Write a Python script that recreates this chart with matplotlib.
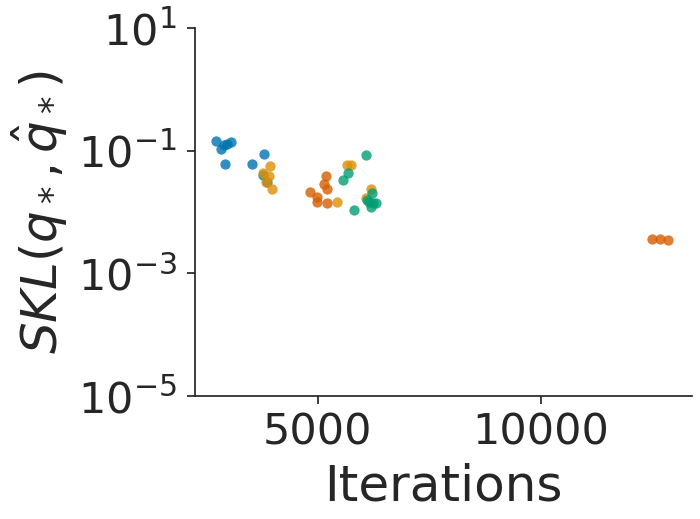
import numpy as np
import matplotlib
matplotlib.use("Agg")
import matplotlib.pyplot as plt

# colorblind palette
colors = ["#0173B2", "#DE8F05", "#029E73", "#D55E00"]

blue_x = [2703, 2889, 2815, 3053, 2950, 2911, 3787, 3525, 3772, 3862]
blue_y = [0.144, 0.124, 0.105, 0.137, 0.128, 0.060, 0.088, 0.0605, 0.040, 0.031]

orange_x = [3922, 3772, 3900, 3826, 3974, 5433, 5651, 5741, 6197, 6071]
orange_y = [0.056, 0.043, 0.039, 0.031, 0.0234, 0.0146, 0.0577, 0.0577, 0.0234, 0.0167]

green_x = [6085, 5681, 5568, 6219, 6145, 6235, 6296, 6183, 6100, 5808]
green_y = [0.085, 0.043, 0.033, 0.0207, 0.0147, 0.0139, 0.0142, 0.0122, 0.0157, 0.0108]

red_x = [5173, 5135, 5209, 4820, 4984, 4984, 5209, 12494, 12680, 12853]
red_y = [0.0386, 0.0286, 0.0240, 0.0209, 0.0174, 0.0144, 0.0139, 0.00359, 0.00359, 0.00345]

series = [(blue_x, blue_y), (orange_x, orange_y), (green_x, green_y), (red_x, red_y)]

plt.rcParams["font.family"] = "DejaVu Sans"
txt = "#262626"

fig = plt.figure(figsize=(7, 5.19), dpi=100)
ax = fig.add_axes([195 / 700, 1 - 396 / 519, 497 / 700, 368 / 519])

for (xs, ys), c in zip(series, colors):
    ax.scatter(xs, ys, s=55, color=c, alpha=0.8, linewidths=0)

ax.set_yscale("log")
ax.set_ylim(1e-5, 1e1)
ax.set_xlim(2240, 13400)
ax.set_yticks([1e-5, 1e-3, 1e-1, 1e1])
ax.yaxis.set_minor_locator(matplotlib.ticker.NullLocator())
ax.set_xticks([5000, 10000])

for side in ["top", "right"]:
    ax.spines[side].set_visible(False)
for side in ["left", "bottom"]:
    ax.spines[side].set_color(txt)
    ax.spines[side].set_linewidth(1.25)

ax.tick_params(axis="both", labelsize=31, colors=txt, length=6, width=1.25)
ax.tick_params(axis="y", pad=7)
ax.tick_params(axis="x", pad=5)
ax.set_xlabel("Iterations", fontsize=36, color=txt, labelpad=7)
ax.set_ylabel(r"$SKL(q_*, \hat{q}_*)$", fontsize=36, color=txt, labelpad=6)

fig.savefig("out.png", dpi=100)
